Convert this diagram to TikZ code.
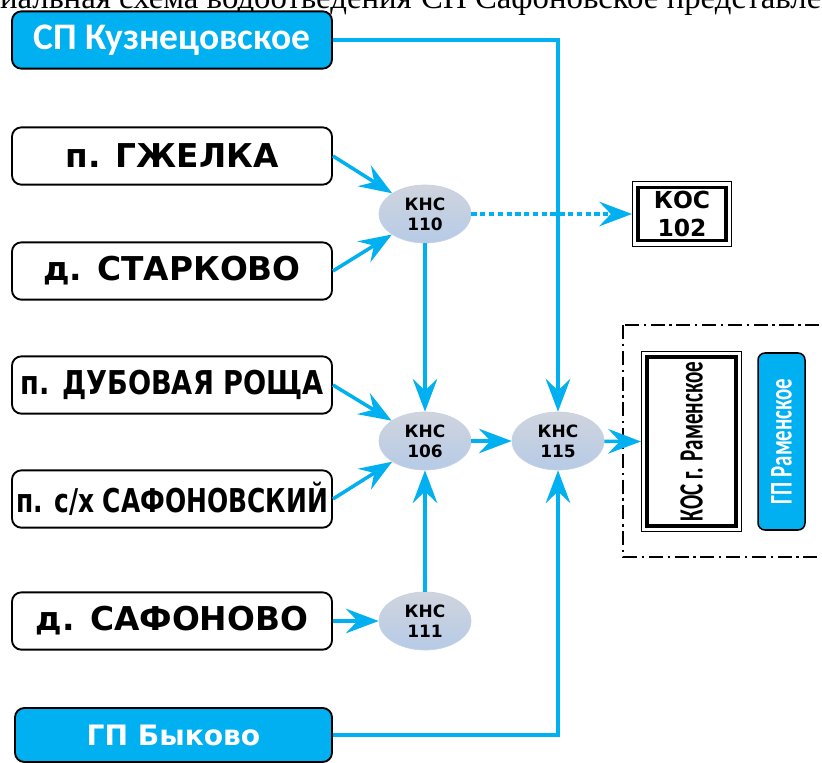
\documentclass[tikz,border=0pt]{standalone}
\usepackage{fontspec}
\usepackage{graphicx}
\setmainfont{Liberation Serif}
\newfontfamily\verd{DejaVu Sans}
\newfontfamily\carl{Carlito}
\usetikzlibrary{arrows.meta,positioning,fit,shapes.geometric}
\definecolor{kcyan}{RGB}{0,176,240}
\definecolor{knstop}{RGB}{208,212,221}
\definecolor{knsbot}{RGB}{182,203,231}
\definecolor{knsrim}{RGB}{198,210,228}
\tikzset{
  settl/.style={draw=black, line width=1.6pt, rounded corners=8pt, fill=white,
    minimum width=9.6cm, minimum height=1.72cm, inner sep=0pt,
    font=\verd\bfseries\fontsize{28}{30}\selectfont},
  sp/.style={settl, fill=kcyan, text=white},
  kns/.style={ellipse, draw=knsrim, line width=0.6pt, top color=knstop, bottom color=knsbot,
    minimum width=2.76cm, minimum height=1.74cm, inner sep=0pt, align=center,
    font=\verd\bfseries\fontsize{14.5}{17}\selectfont},
  kos/.style={draw=black, line width=2.6pt, fill=white, inner sep=0pt, align=center},
  kosrim/.style={draw=black, line width=0.7pt, inner sep=3.5pt},
  flow/.style={draw=kcyan, line width=3pt, -{Stealth[length=28pt,width=21pt,inset=10pt]}},
  dotflow/.style={flow, dash pattern=on 4.5pt off 3pt},
  zone/.style={draw=black, line width=1.5pt, dash pattern=on 12pt off 4pt on 2pt off 4pt}
}
\begin{document}
\begin{tikzpicture}[x=0.03cm, y=-0.03cm]
  \useasboundingbox (0,0) rectangle (822,762);
  \clip (0,0) rectangle (822,762);
  % строка текста над схемой
  \node[anchor=base east, inner sep=0pt, font=\fontsize{28}{28}\selectfont] (capl) at (412,9) {Принципиальная схема водоотведения};
  \node[anchor=base west, inner sep=0pt, font=\fontsize{28}{28}\selectfont] (capr) at (421,9) {СП Сафоновское представлена};

  \node[sp, font=\carl\bfseries\fontsize{32}{34}\selectfont] (kuzn) at (172,40) {СП Кузнецовское};
  \node[settl] (gzhel) at (172,156) {п. ГЖЕЛКА};
  \node[settl] (stark) at (172,271) {д. СТАРКОВО};
  \node[settl] (dubov) at (172,385) {\scalebox{0.83}[1]{п. ДУБОВАЯ РОЩА}};
  \node[settl] (sovkh) at (172,499) {\scalebox{0.76}[1]{п. с/х САФОНОВСКИЙ}};
  \node[settl] (safon) at (172,621) {д. САФОНОВО};
  \node[sp, minimum width=9.51cm, minimum height=1.62cm,
    font=\verd\bfseries\fontsize{24}{26}\selectfont] (bykov) at (173.5,735) {ГП Быково};

  \node[kns] (k110) at (425,214) {КНС\\110};
  \node[kns] (k106) at (425,441) {КНС\\106};
  \node[kns] (k115) at (558,441) {КНС\\115};
  \node[kns] (k111) at (425,621) {КНС\\111};

  \node[kos, minimum width=2.64cm, minimum height=1.59cm,
    font=\verd\bfseries\fontsize{20}{24}\selectfont] (kos102) at (682,214) {КОС\\102};
  \node[kosrim, fit=(kos102)] (kos102f) {};

  \draw[zone] (623,325) rectangle (850,557);
  \node[kos, rotate=90, minimum width=5.07cm, minimum height=2.67cm,
    font=\carl\bfseries\fontsize{29}{30}\selectfont] (kosram) at (691.5,441.5)
    {\scalebox{0.62}[1]{КОС г. Раменское}};
  \node[kosrim, fit=(kosram)] (kosramf) {};
  \node[sp, rotate=90, minimum width=5.31cm, minimum height=1.41cm, line width=1.3pt,
    rounded corners=6pt, font=\carl\bfseries\fontsize{27}{28}\selectfont] (gpram) at (781.5,441.5)
    {\scalebox{0.66}[1]{ГП Раменское}};

  \draw[flow] (kuzn.east) -| (k115.north);
  \draw[flow] (gzhel.east) -- (k110);
  \draw[flow] (stark.east) -- (k110);
  \draw[dotflow] (k110.east) -- (kos102f.west);
  \draw[flow] (k110) -- (k106);
  \draw[flow] (dubov.east) -- (k106);
  \draw[flow] (sovkh.east) -- (k106);
  \draw[flow] (k106) -- (k115);
  \draw[flow] (k111) -- (k106);
  \draw[flow] (safon) -- (k111);
  \draw[flow] (bykov.east) -| (k115.south);
  \draw[flow] (k115) -- (kosramf.west);
\end{tikzpicture}
\end{document}
